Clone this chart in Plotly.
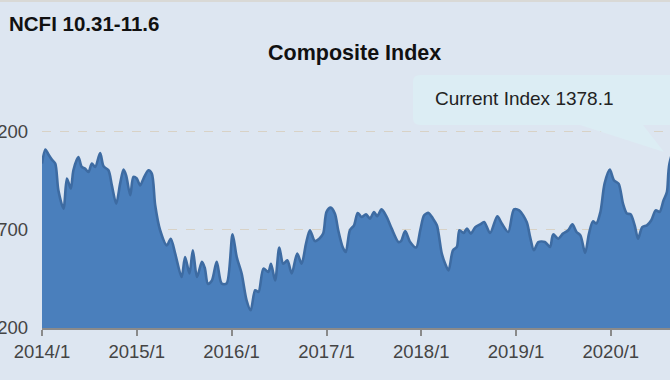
import plotly.graph_objects as go

# ---- data ----
dates = [
    "2014-01-01", "2014-01-14", "2014-01-26", "2014-02-08", "2014-02-21", "2014-03-05",
    "2014-03-25", "2014-04-07", "2014-04-22", "2014-05-02", "2014-05-21", "2014-06-03",
    "2014-06-16", "2014-06-29", "2014-07-12", "2014-07-25", "2014-08-13", "2014-08-26",
    "2014-09-14", "2014-09-27", "2014-10-14", "2014-10-29", "2014-11-11", "2014-11-21",
    "2014-12-07", "2014-12-19", "2015-01-01", "2015-01-14", "2015-01-27", "2015-02-15",
    "2015-02-28", "2015-03-13", "2015-04-01", "2015-04-27", "2015-05-12", "2015-05-29",
    "2015-06-23", "2015-07-06", "2015-07-23", "2015-08-05", "2015-08-21", "2015-09-09",
    "2015-09-20", "2015-10-02", "2015-10-17", "2015-11-05", "2015-11-24", "2015-12-13",
    "2016-01-05", "2016-01-21", "2016-02-09", "2016-02-28", "2016-03-15", "2016-04-01",
    "2016-04-14", "2016-05-03", "2016-05-22", "2016-06-01", "2016-06-17", "2016-07-03",
    "2016-07-18", "2016-08-03", "2016-08-20", "2016-09-10", "2016-09-27", "2016-10-14",
    "2016-10-29", "2016-11-17", "2016-12-04", "2016-12-19", "2017-01-01", "2017-01-17",
    "2017-02-02", "2017-02-15", "2017-03-04", "2017-03-16", "2017-04-01", "2017-04-17",
    "2017-05-01", "2017-05-16", "2017-06-02", "2017-06-17", "2017-07-03", "2017-07-15",
    "2017-08-01", "2017-08-21", "2017-09-09", "2017-10-05", "2017-10-15", "2017-10-31",
    "2017-11-19", "2017-12-12", "2017-12-28", "2018-01-12", "2018-01-29", "2018-02-15",
    "2018-03-02", "2018-03-21", "2018-04-03", "2018-04-16", "2018-05-03", "2018-05-18",
    "2018-05-28", "2018-06-13", "2018-06-26", "2018-07-11", "2018-07-28", "2018-08-16",
    "2018-08-31", "2018-09-23", "2018-10-21", "2018-11-07", "2018-12-02", "2018-12-24",
    "2019-01-13", "2019-02-11", "2019-02-24", "2019-03-11", "2019-03-28", "2019-04-22",
    "2019-05-12", "2019-05-24", "2019-06-12", "2019-07-01", "2019-07-21", "2019-08-06",
    "2019-08-22", "2019-09-06", "2019-09-24", "2019-10-09", "2019-10-24", "2019-11-06",
    "2019-11-22", "2019-12-08", "2019-12-28", "2020-01-13", "2020-01-31", "2020-02-17",
    "2020-03-03", "2020-03-17", "2020-04-02", "2020-04-15", "2020-05-01", "2020-05-19",
    "2020-06-05", "2020-06-22", "2020-07-07", "2020-07-22", "2020-08-04", "2020-08-14",
    "2020-11-06",
]
index_values = [
    1036, 1107, 1082, 1056, 1036, 900,
    807, 960, 909, 1002, 1069, 1019,
    1010, 993, 1036, 1019, 1090, 1022,
    1002, 925, 832, 934, 1005, 976,
    875, 968, 960, 925, 960, 1002,
    985, 824, 697, 620, 654, 578,
    459, 561, 477, 595, 459, 536,
    505, 425, 440, 536, 426, 426,
    676, 561, 477, 341, 290, 392,
    383, 502, 485, 527, 442, 609,
    527, 544, 477, 578, 527, 629,
    697, 642, 654, 680, 790, 812,
    782, 697, 612, 586, 697, 722,
    785, 764, 778, 756, 790, 768,
    803, 764, 705, 637, 642, 693,
    637, 609, 697, 773, 785, 756,
    722, 578, 527, 493, 595, 612,
    697, 683, 705, 680, 713, 727,
    739, 683, 768, 731, 688, 803,
    798, 739, 663, 595, 637, 637,
    612, 676, 654, 680, 697, 727,
    688, 671, 581, 680, 742, 731,
    790, 934, 1005, 951, 934, 832,
    782, 778, 722, 654, 713, 722,
    748, 798, 790, 849, 891, 1036,
    1378.1,
]
tick_dates = ["2014-01-01", "2015-01-01", "2016-01-01", "2017-01-01",
              "2018-01-01", "2019-01-01", "2020-01-01"]
tick_labels = ["2014/1", "2015/1", "2016/1", "2017/1", "2018/1", "2019/1", "2020/1"]
y_ticks = [200, 700, 1200]
header_text = "NCFI 10.31-11.6"
title_text = "Composite Index"
current_text = "Current Index 1378.1"

# ---- layout geometry ----
W, H = 670, 380
ML, MR, MT, MB = 42, 0, 70, 52
PW, PH = W - ML - MR, H - MT - MB


def px(x):
    return (x - ML) / PW


def py(y):
    return (H - MB - y) / PH


FONT = "Liberation Sans, Arial, sans-serif"
BG = "#dde6f1"

fig = go.Figure()
fig.add_trace(go.Scatter(
    x=dates, y=index_values, mode="lines",
    line=dict(color="#3d6ba2", width=2.6, shape="spline", smoothing=0.8),
    fill="tozeroy", fillcolor="#4a7fbc", hoverinfo="skip",
))

# tooltip callout path (pixel coords -> paper)
r = 7
path = f"M {px(413 + r)},{py(75)} L {px(690)},{py(75)} L {px(690)},{py(125)} " \
       f"L {px(643)},{py(125)} L {px(664)},{py(152)} L {px(580)},{py(125)} " \
       f"L {px(413 + r)},{py(125)} Q {px(413)},{py(125)} {px(413)},{py(125 - r)} " \
       f"L {px(413)},{py(75 + r)} Q {px(413)},{py(75)} {px(413 + r)},{py(75)} Z"

fig.update_layout(
    width=W, height=H,
    margin=dict(l=ML, r=MR, t=MT, b=MB, autoexpand=False),
    paper_bgcolor=BG, plot_bgcolor=BG,
    showlegend=False,
    font=dict(family=FONT, color="#444444"),
    xaxis=dict(
        type="date", range=["2014-01-01", "2020-08-16"],
        tickvals=tick_dates, ticktext=tick_labels,
        ticks="outside", ticklen=6, tickwidth=2, tickcolor="#8a8a8a",
        showline=True, linecolor="#8a8a8a", linewidth=2,
        showgrid=False, zeroline=False,
        tickfont=dict(size=18.5, color="#444444", family=FONT),
        fixedrange=True, automargin=False,
    ),
    yaxis=dict(
        range=[200, 200 + PH / 0.1967],
        tickvals=y_ticks, ticktext=[str(v) for v in y_ticks],
        showgrid=True, gridcolor="#d8d2c6", griddash="dash", gridwidth=1.3,
        zeroline=False, showline=False, ticks="",
        ticklabelstandoff=13,
        tickfont=dict(size=18.5, color="#444444", family=FONT),
        fixedrange=True, automargin=False,
    ),
    shapes=[
        dict(type="path", xref="paper", yref="paper", path=path,
             fillcolor="#dcedf4", line=dict(width=0), layer="above"),
        dict(type="line", xref="paper", yref="paper",
             x0=px(0), x1=px(W), y0=py(1), y1=py(1),
             line=dict(color="#d9d9d6", width=2)),
    ],
    annotations=[
        dict(text=f"<b>{header_text}</b>", xref="paper", yref="paper",
             x=px(7), y=py(24), xanchor="left", yanchor="middle", showarrow=False,
             font=dict(size=20.5, color="#111111", family=FONT)),
        dict(text=f"<b>{title_text}</b>", xref="paper", yref="paper",
             x=px(354.5), y=py(53), xanchor="center", yanchor="middle", showarrow=False,
             font=dict(size=21.5, color="#111111", family=FONT)),
        dict(text=current_text, xref="paper", yref="paper",
             x=px(433), y=py(98), xanchor="left", yanchor="middle", showarrow=False,
             font=dict(size=19, color="#222222", family=FONT)),
    ],
)

fig.write_html(
    "out.html",
    config={"displayModeBar": False, "staticPlot": True},
    post_script="document.body.style.margin='0';document.body.style.overflow='hidden';",
)
